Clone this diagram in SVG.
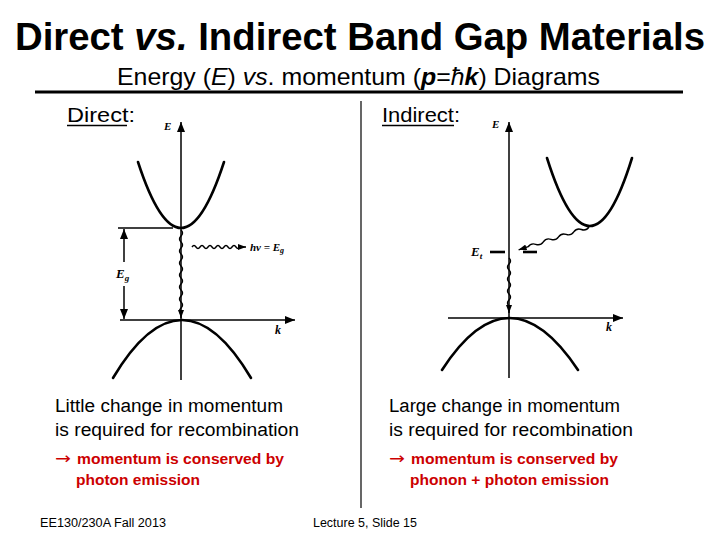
<svg xmlns="http://www.w3.org/2000/svg" width="720" height="540" viewBox="0 0 720 540">
<style>
.sans{font-family:"Liberation Sans",Arial,sans-serif;fill:#000}
.ser{font-family:"Liberation Serif","Times New Roman",serif;fill:#000;font-style:italic;font-weight:bold}
.band{fill:none;stroke:#000;stroke-width:2.6;stroke-linecap:round}
.axis{fill:none;stroke:#000;stroke-width:1.5}
.wave{fill:none;stroke:#000;stroke-width:1.4}
.red{font-family:"Liberation Sans",Arial,sans-serif;fill:#cc0000;font-weight:bold;font-size:15px}
.arr{font-family:"DejaVu Sans",sans-serif;fill:#cc0000;font-size:16px}
.body{font-family:"Liberation Sans",Arial,sans-serif;fill:#000;font-size:18px}
</style>
<defs>
<marker id="ah" markerUnits="userSpaceOnUse" markerWidth="10" markerHeight="8" refX="10" refY="4" orient="auto-start-reverse">
<path d="M0,0 L10,4 L0,8 z" fill="#000"/>
</marker>
<marker id="ahs" markerUnits="userSpaceOnUse" markerWidth="8" markerHeight="6" refX="8" refY="3" orient="auto">
<path d="M0,0 L8,3 L0,6 z" fill="#000"/>
</marker>
</defs>
<rect width="720" height="540" fill="#fff"/>

<g id="title">
<text class="sans" x="15" y="50" font-size="38" font-weight="bold" textLength="690" lengthAdjust="spacingAndGlyphs">Direct <tspan font-style="italic">vs.</tspan> Indirect Band Gap Materials</text>
</g>
<g id="subtitle">
<text class="sans" x="117" y="85" font-size="24" textLength="483" lengthAdjust="spacingAndGlyphs">Energy (<tspan font-style="italic">E</tspan>) <tspan font-style="italic">vs</tspan>. momentum (<tspan font-style="italic" font-weight="bold">p</tspan>=<tspan font-style="italic">ħ</tspan><tspan font-style="italic" font-weight="bold">k</tspan>) Diagrams</text>
<line x1="35" y1="92" x2="683" y2="92" stroke="#000" stroke-width="3"/>
</g>
<g id="divider">
<line x1="361" y1="101" x2="361" y2="508" stroke="#000" stroke-width="1.2"/>
</g>

<g id="direct-heading">
<text class="sans" x="67" y="122" font-size="20" textLength="68" lengthAdjust="spacingAndGlyphs">Direct:</text>
<line x1="67" y1="125.5" x2="127" y2="125.5" stroke="#000" stroke-width="1.6"/>
</g>
<g id="indirect-heading">
<text class="sans" x="382" y="122" font-size="20" textLength="78" lengthAdjust="spacingAndGlyphs">Indirect:</text>
<line x1="382" y1="125.5" x2="454" y2="125.5" stroke="#000" stroke-width="1.6"/>
</g>

<g id="direct-diagram">
<line class="axis" x1="181" y1="380" x2="181" y2="122" marker-end="url(#ah)"/>
<text class="ser" x="164" y="130" font-size="11">E</text>
<line class="axis" x1="120" y1="320" x2="295" y2="320" marker-end="url(#ah)"/>
<text class="ser" x="275" y="334" font-size="12" font-style="normal">k</text>
<line class="axis" x1="118" y1="228" x2="173" y2="228"/>
<path class="band" d="M138,162 Q181,294 224,162"/>
<path class="band" d="M113,378 Q182,262 251,378"/>
<line class="axis" x1="124" y1="229" x2="124" y2="262" marker-start="url(#ah)"/>
<line class="axis" x1="124" y1="286" x2="124" y2="319" marker-end="url(#ah)"/>
<text class="ser" x="116" y="278" font-size="13">E<tspan font-size="9" dy="3">g</tspan></text>
<path class="wave" d="M181,230 q3,3 0,6 q-3,3 0,6 q3,3 0,6 q-3,3 0,6 q3,3 0,6 q-3,3 0,6 q3,3 0,6 q-3,3 0,6 q3,3 0,6 q-3,3 0,6 q3,3 0,6 q-3,3 0,6 q3,3 0,6 q-3,3 0,6 v4" marker-end="url(#ahs)"/>
<path class="wave" d="M192,247 q2,-3 4,0 q2,3 4,0 q2,-3 4,0 q2,3 4,0 q2,-3 4,0 q2,3 4,0 q2,-3 4,0 q2,3 4,0 q2,-3 4,0 q2,3 4,0 q2,-3 4,0 q2,3 4,0 h6" marker-end="url(#ahs)"/>
<text class="ser" x="250" y="251" font-size="11">hν  =  E<tspan font-size="8" dy="2">g</tspan></text>
</g>

<g id="indirect-diagram">
<line class="axis" x1="509" y1="378" x2="509" y2="122" marker-end="url(#ah)"/>
<text class="ser" x="492" y="128" font-size="11">E</text>
<line class="axis" x1="448" y1="318" x2="623" y2="318" marker-end="url(#ah)"/>
<text class="ser" x="606" y="331" font-size="12" font-style="normal">k</text>
<path class="band" d="M547,158 Q590,294 632,158"/>
<path class="band" d="M442,370 Q509,266 578,370"/>
<line x1="490" y1="252" x2="505" y2="252" stroke="#000" stroke-width="2.6"/>
<line x1="523" y1="252" x2="537" y2="252" stroke="#000" stroke-width="2.6"/>
<text class="ser" x="471" y="256" font-size="13">E<tspan font-size="9" dy="3">t</tspan></text>
<g transform="translate(589,227) rotate(162)">
<path class="wave" d="M0,0 q4,-3 8,0 q4,3 8,0 q4,-3 8,0 q4,3 8,0 q4,-3 8,0 q4,3 8,0 q4,-3 8,0 q4,3 8,0 h10" marker-end="url(#ahs)"/>
</g>
<path class="wave" d="M509,258 q3,3 0,6 q-3,3 0,6 q3,3 0,6 q-3,3 0,6 q3,3 0,6 q-3,3 0,6 q3,3 0,6 q-3,3 0,6 v7" marker-end="url(#ahs)"/>
</g>

<g id="direct-text">
<text class="body" x="55" y="412" textLength="228" lengthAdjust="spacingAndGlyphs">Little change in momentum</text>
<text class="body" x="55" y="436" textLength="244" lengthAdjust="spacingAndGlyphs">is required for recombination</text>
<text class="arr" x="55" y="464" textLength="16" lengthAdjust="spacingAndGlyphs">→</text>
<text class="red" x="77" y="464" textLength="207" lengthAdjust="spacingAndGlyphs">momentum is conserved by</text>
<text class="red" x="76" y="485" textLength="124" lengthAdjust="spacingAndGlyphs">photon emission</text>
</g>
<g id="indirect-text">
<text class="body" x="389" y="412" textLength="231" lengthAdjust="spacingAndGlyphs">Large change in momentum</text>
<text class="body" x="389" y="436" textLength="244" lengthAdjust="spacingAndGlyphs">is required for recombination</text>
<text class="arr" x="389" y="464" textLength="16" lengthAdjust="spacingAndGlyphs">→</text>
<text class="red" x="411" y="464" textLength="207" lengthAdjust="spacingAndGlyphs">momentum is conserved by</text>
<text class="red" x="410" y="485" textLength="199" lengthAdjust="spacingAndGlyphs">phonon + photon emission</text>
</g>

<g id="footer">
<text class="sans" x="40" y="527" font-size="12" textLength="126" lengthAdjust="spacingAndGlyphs">EE130/230A Fall 2013</text>
<text class="sans" x="313" y="527" font-size="12" textLength="104" lengthAdjust="spacingAndGlyphs">Lecture 5, Slide 15</text>
</g>
</svg>
